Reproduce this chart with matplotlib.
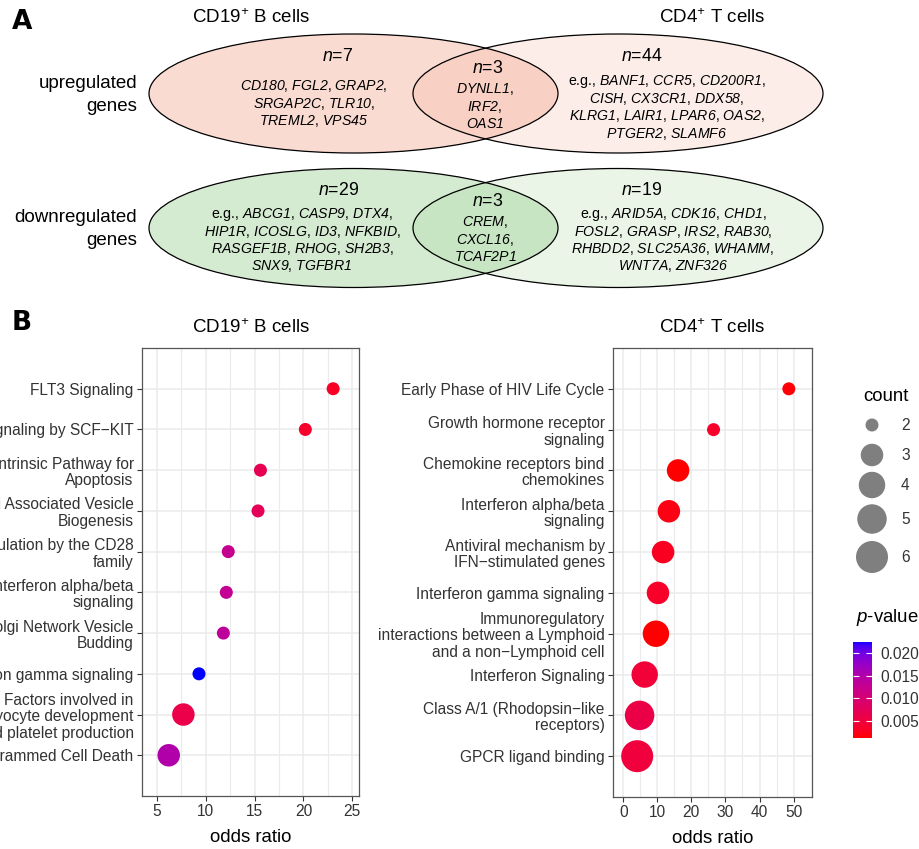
import numpy as np
import matplotlib
matplotlib.use("Agg")
import matplotlib.pyplot as plt
from matplotlib.patches import Ellipse
from matplotlib.colors import ListedColormap, Normalize
from matplotlib.cm import ScalarMappable

plt.rcParams["font.family"] = ["Liberation Sans", "DejaVu Sans"]
plt.rcParams["mathtext.fontset"] = "custom"
# math parts are only used for italic gene names, n, p and the superscript +
plt.rcParams["mathtext.rm"] = "Liberation Sans:italic"
plt.rcParams["mathtext.it"] = "Liberation Sans:italic"
plt.rcParams["mathtext.bf"] = "Liberation Sans:bold"

# ---- panel A: gene overlaps ----
up_b_n, up_both_n, up_t_n = 7, 3, 44
down_b_n, down_both_n, down_t_n = 29, 3, 19

up_b_genes = [["CD180", "FGL2", "GRAP2"], ["SRGAP2C", "TLR10"], ["TREML2", "VPS45"]]
up_both_genes = [["DYNLL1"], ["IRF2"], ["OAS1"]]
up_t_genes = [["BANF1", "CCR5", "CD200R1"], ["CISH", "CX3CR1", "DDX58"],
              ["KLRG1", "LAIR1", "LPAR6", "OAS2"], ["PTGER2", "SLAMF6"]]
down_b_genes = [["ABCG1", "CASP9", "DTX4"], ["HIP1R", "ICOSLG", "ID3", "NFKBID"],
                ["RASGEF1B", "RHOG", "SH2B3"], ["SNX9", "TGFBR1"]]
down_both_genes = [["CREM"], ["CXCL16"], ["TCAF2P1"]]
down_t_genes = [["ARID5A", "CDK16", "CHD1"], ["FOSL2", "GRASP", "IRS2", "RAB30"],
                ["RHBDD2", "SLC25A36", "WHAMM"], ["WNT7A", "ZNF326"]]

# ---- panel B: enrichment ----
b_paths = ["FLT3 Signaling", "Signaling by SCF\u2212KIT", "Intrinsic Pathway for\nApoptosis",
           "Golgi Associated Vesicle\nBiogenesis", "Costimulation by the CD28\nfamily",
           "Interferon alpha/beta\nsignaling", "trans\u2212Golgi Network Vesicle\nBudding",
           "Interferon gamma signaling",
           "Factors involved in\nmegakaryocyte development\nand platelet production",
           "Programmed Cell Death"]
b_or = [23.05, 20.2, 15.6, 15.35, 12.3, 12.1, 11.8, 9.3, 7.7, 6.2]
b_count = [2, 2, 2, 2, 2, 2, 2, 2, 3, 3]
b_p = [0.0030, 0.0035, 0.0070, 0.0072, 0.0125, 0.0128, 0.0135, 0.0225, 0.0060, 0.0150]

t_paths = ["Early Phase of HIV Life Cycle", "Growth hormone receptor\nsignaling",
           "Chemokine receptors bind\nchemokines", "Interferon alpha/beta\nsignaling",
           "Antiviral mechanism by\nIFN\u2212stimulated genes", "Interferon gamma signaling",
           "Immunoregulatory\ninteractions between a Lymphoid\nand a non\u2212Lymphoid cell",
           "Interferon Signaling", "Class A/1 (Rhodopsin\u2212like\nreceptors)", "GPCR ligand binding"]
t_or = [48.6, 26.5, 16.1, 13.4, 11.7, 10.2, 9.6, 6.3, 4.8, 4.1]
t_count = [2, 2, 3, 3, 3, 3, 4, 4, 5, 6]
t_p = [0.0015, 0.0035, 0.0012, 0.0020, 0.0027, 0.0033, 0.0012, 0.0045, 0.0058, 0.0048]

legend_counts = [2, 3, 4, 5, 6]
p_ticks = [0.005, 0.010, 0.015, 0.020]
p_range = (0.0012, 0.0225)

TXT = "#333333"


# red -> blue gradient interpolated in CIELAB, like ggplot
M = np.array([[0.4124, 0.3576, 0.1805], [0.2126, 0.7152, 0.0722], [0.0193, 0.1192, 0.9505]])
WP = np.array([0.95047, 1.0, 1.08883])


def srgb_to_lab(c):
    c = np.asarray(c, float)
    lin = np.where(c <= 0.04045, c / 12.92, ((c + 0.055) / 1.055) ** 2.4)
    t = (M @ lin) / WP
    f = np.where(t > (6 / 29) ** 3, np.cbrt(t), t / (3 * (6 / 29) ** 2) + 4 / 29)
    return np.array([116 * f[1] - 16, 500 * (f[0] - f[1]), 200 * (f[1] - f[2])])


def lab_to_srgb(lab):
    L, a, b = lab
    fy = (L + 16) / 116
    f = np.array([fy + a / 500, fy, fy - b / 200])
    t = np.where(f > 6 / 29, f ** 3, 3 * (6 / 29) ** 2 * (f - 4 / 29))
    lin = np.clip(np.linalg.inv(M) @ (t * WP), 0, 1)
    c = np.where(lin <= 0.0031308, 12.92 * lin, 1.055 * lin ** (1 / 2.4) - 0.055)
    return np.clip(c, 0, 1)


lab_lo = srgb_to_lab([1, 0, 0])
lab_hi = srgb_to_lab([0, 0, 1])
cmap = ListedColormap([lab_to_srgb(lab_lo + (lab_hi - lab_lo) * k) for k in np.linspace(0, 1, 256)])
norm = Normalize(*p_range)


def dot_size(count):
    d_px = 13 + 19 * np.sqrt((np.asarray(count) - 2) / 4.0)
    return (d_px * 0.72) ** 2


def gene_lines(lines, n):
    eg = sum(len(l) for l in lines) < n
    out = []
    for i, line in enumerate(lines):
        s = ", ".join("$\\mathrm{%s}$" % g for g in line)
        if i < len(lines) - 1:
            s += ","
        if i == 0 and eg:
            s = "e.g., " + s
        out.append(s)
    return out


fig = plt.figure(figsize=(9.2, 8.49), dpi=100)

# overlay in pixel coordinates for panel A and legends
ov = fig.add_axes([0, 0, 1, 1])
ov.set_xlim(0, 920)
ov.set_ylim(849, 0)
ov.axis("off")

ov.text(22, 22, "A", fontsize=19, fontweight="bold", ha="center", va="center", family="DejaVu Sans")
ov.text(22, 323, "B", fontsize=19, fontweight="bold", ha="center", va="center", family="DejaVu Sans")
ov.text(251, 18, "CD19$^{+}$ B cells", fontsize=13.5, ha="center", va="center")
ov.text(712, 18, "CD4$^{+}$ T cells", fontsize=13.5, ha="center", va="center")
ov.text(137, 95, "upregulated\ngenes", fontsize=13.5, ha="right", va="center", linespacing=1.45)
ov.text(137, 229, "downregulated\ngenes", fontsize=13.5, ha="right", va="center", linespacing=1.45)

for cy, base in [(93.5, "#F4A58F"), (228, "#96CD8C")]:
    ov.add_patch(Ellipse((353.5, cy), 409, 119, facecolor=base, alpha=0.4, lw=0))
    ov.add_patch(Ellipse((618, cy), 410, 119, facecolor=base, alpha=0.2, lw=0))
    ov.add_patch(Ellipse((353.5, cy), 409, 119, facecolor="none", edgecolor="black", lw=0.9))
    ov.add_patch(Ellipse((618, cy), 410, 119, facecolor="none", edgecolor="black", lw=0.9))

regions = [
    (up_b_n, up_b_genes, (338, 56), (314, 86)),
    (up_both_n, up_both_genes, (488, 68), (485, 89)),
    (up_t_n, up_t_genes, (642, 56), (667, 81)),
    (down_b_n, down_b_genes, (339, 190), (302, 214)),
    (down_both_n, down_both_genes, (488, 201), (485, 222)),
    (down_t_n, down_t_genes, (642, 190), (673, 214)),
]
for n, genes, npos, gpos in regions:
    ov.text(npos[0], npos[1], "$\\mathit{n}$=%d" % n, fontsize=12.8, ha="center", va="center")
    for i, s in enumerate(gene_lines(genes, n)):
        ov.text(gpos[0], gpos[1] + i * 17.5, s, fontsize=10.2, ha="center", va="center")


def dot_panel(rect, paths, odds, counts, pvals, xlim, major, minor, title):
    ax = fig.add_axes(rect)
    ypos = np.arange(len(paths))[::-1] + 1
    ax.scatter(odds, ypos, s=dot_size(counts), c=pvals, cmap=cmap, norm=norm,
               linewidths=0, zorder=3)
    ax.set_xlim(*xlim)
    ax.set_ylim(0, len(paths) + 1)
    ax.set_xticks(major)
    ax.set_xticks(minor, minor=True)
    ax.set_yticks(ypos)
    ax.set_yticklabels(paths)
    for lbl in ax.get_yticklabels():
        lbl.set_linespacing(1.12)
    ax.grid(which="major", color="#EBEBEB", lw=1.1)
    ax.grid(which="minor", axis="x", color="#EBEBEB", lw=0.8)
    ax.set_axisbelow(True)
    for sp in ax.spines.values():
        sp.set_color("#555555")
        sp.set_linewidth(0.9)
    ax.tick_params(which="major", length=3.5, width=0.8, color="#333333",
                   labelsize=11.2, labelcolor=TXT, pad=2.5)
    ax.tick_params(which="minor", length=0)
    ax.set_xlabel("odds ratio", fontsize=13.4, color="black", labelpad=7)
    ax.set_title(title, fontsize=13.5, pad=11)
    return ax


dot_panel([142 / 920, 1 - 796 / 849, 217 / 920, 448 / 849], b_paths, b_or, b_count, b_p,
          (3.46, 25.7), [5, 10, 15, 20, 25], [7.5, 12.5, 17.5, 22.5], "CD19$^{+}$ B cells")
dot_panel([613 / 920, 1 - 797 / 849, 199 / 920, 449 / 849], t_paths, t_or, t_count, t_p,
          (-3.0, 55.4), [0, 10, 20, 30, 40, 50], [5, 15, 25, 35, 45], "CD4$^{+}$ T cells")

# size legend
ov.text(863, 396, "count", fontsize=13.4, ha="left", va="center")
key_y = [425, 455, 485, 519, 557]
ov.scatter([872] * len(legend_counts), key_y, s=dot_size(legend_counts), color="#7F7F7F",
           linewidths=0)
for c, y in zip(legend_counts, key_y):
    ov.text(901, y, str(c), fontsize=11.2, color=TXT, ha="left", va="center")

# colour legend
ov.text(856, 618, "$\\mathit{p}$-value", fontsize=13.4, ha="left", va="center")
cax = fig.add_axes([852.7 / 920, 1 - 737.7 / 849, 19 / 920, 96 / 849])
cb = fig.colorbar(ScalarMappable(norm=norm, cmap=cmap), cax=cax, ticks=p_ticks)
cb.outline.set_visible(False)
cb.ax.set_yticklabels(["%.3f" % v for v in p_ticks])
cax.tick_params(direction="in", length=4, width=0.8, color="white", left=True, right=True,
                labelleft=False, labelright=True, labelsize=11.2, labelcolor=TXT, pad=6)

fig.savefig("out.png", dpi=100)
